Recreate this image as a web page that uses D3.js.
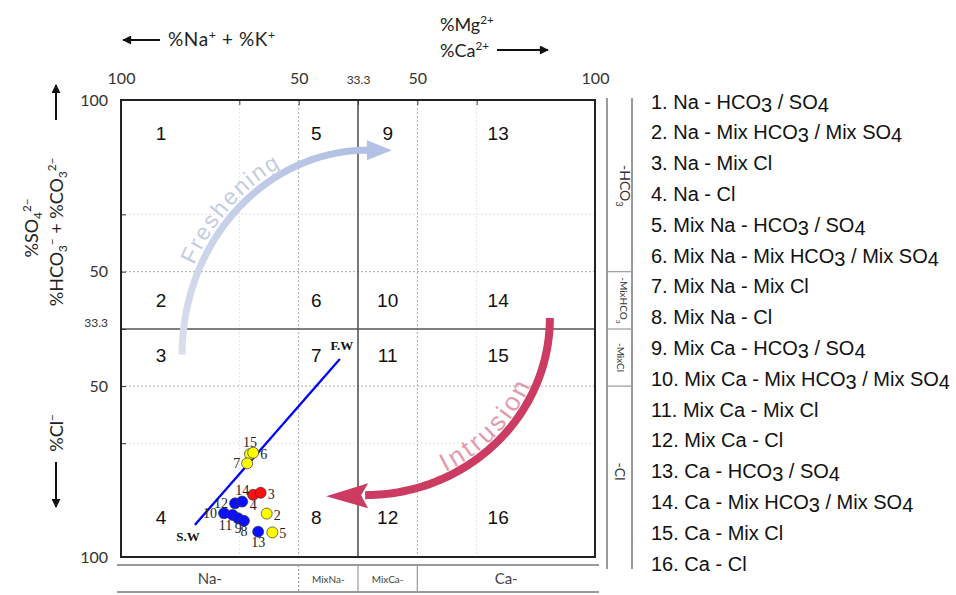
<!DOCTYPE html>
<html>
<head>
<meta charset="utf-8">
<script src="https://cdn.jsdelivr.net/npm/d3@7"></script>
<style>
  body { margin: 0; background: #fff; }
  svg { display: block; }
</style>
</head>
<body>
<svg width="956" height="595"></svg>
<script>
// legend of the 16 facies
const faciesNames = [
  "1. Na - HCO3 / SO4",
  "2. Na - Mix HCO3 / Mix SO4",
  "3. Na - Mix Cl",
  "4. Na - Cl",
  "5. Mix Na - HCO3 / SO4",
  "6. Mix Na - Mix HCO3 / Mix SO4",
  "7. Mix Na - Mix Cl",
  "8. Mix Na -  Cl",
  "9. Mix Ca - HCO3 / SO4",
  "10. Mix Ca - Mix HCO3 / Mix SO4",
  "11. Mix Ca - Mix Cl",
  "12. Mix Ca -  Cl",
  "13. Ca - HCO3 / SO4",
  "14. Ca - Mix HCO3 / Mix SO4",
  "15. Ca - Mix Cl",
  "16. Ca - Cl"
];
const cationBands = ["Na-", "MixNa-", "MixCa-", "Ca-"];
const anionBands = ["-HCO3", "-MixHCO3", "-MixCl", "-Cl"];

// tick values of each half axis
const naTicks = [100, 66.7, 50, 33.3];
const caTicks = [50, 66.7, 100];

// samples: %Na+K and %Cl (all fall in the Na side / Cl side)
const sampleIds = ["15", "6", "7", "2", "5", "4", "3", "12", "14", "10", "11", "9", "8", "13"];
const sampleNa = [63.7, 62.8, 64.5, 59.0, 57.4, 62.8, 60.7, 67.9, 65.9, 71.0, 68.6, 67.0, 65.4, 61.4];
const sampleCl = [69.9, 69.5, 72.6, 87.3, 92.8, 81.8, 81.2, 84.3, 83.8, 87.2, 87.7, 88.7, 89.4, 92.6];
const sampleGroup = ["Y", "Y", "Y", "Y", "Y", "R", "R", "B", "B", "B", "B", "B", "B", "B"];
const labelSide = ["t", "r", "l", "r", "r", "b", "r", "l", "t", "l", "bl", "b", "b", "b"];

// seawater - freshwater mixing line
const mixNames = ["S.W", "F.W"];
const mixNa = [79.2, 38.4];
const mixCl = [90.6, 42.1];

let svg = d3.select("svg");
let sans = "'Liberation Sans', Arial, sans-serif";
let lato = "Lato, 'Open Sans', sans-serif";
let serif = "'Liberation Serif', 'Times New Roman', serif";

let X0 = 121, XM = 358, X1 = 595, Y0 = 100, YM = 329, Y1 = 557;
let xNa = d3.scaleLinear().domain([100, 33.3]).range([X0, XM]);
let xCa = d3.scaleLinear().domain([33.3, 100]).range([XM, X1]);
let yAn = d3.scaleLinear().domain([100, 33.3]).range([Y0, YM]);
let yCl = d3.scaleLinear().domain([33.3, 100]).range([YM, Y1]);
let colour = d3.scaleOrdinal().domain(["Y", "R", "B"]).range(["#ffff00", "#ff1010", "#0a10ff"]);

let xEdges = [X0, xNa(50), XM, xCa(50), X1];
let yEdges = [Y0, yAn(50), YM, yCl(50), Y1];

// text with sub/superscripts
let rich = (sel, parts) => {
  let cur = 0;
  parts.forEach(([s, k]) => {
    let off = k === 1 ? -7 : k === -1 ? 4 : 0;
    sel.append("tspan").attr("dy", off - cur).attr("font-size", k ? "0.65em" : null).text(s);
    cur = off;
  });
};
// chemistry strings like HCO3 -> lowered digit
let chem = (sel, str, shift) => {
  let cur = 0;
  str.split(/(HCO3|SO4)/).forEach(p => {
    if (!p) return;
    if (/^(HCO3|SO4)$/.test(p)) {
      sel.append("tspan").attr("dy", -cur).text(p.slice(0, -1));
      sel.append("tspan").attr("dy", shift).text(p.slice(-1));
      cur = shift;
    } else {
      sel.append("tspan").attr("dy", -cur).text(p);
      cur = 0;
    }
  });
};

let defs = svg.append("defs");
defs.append("marker").attr("id", "ah")
  .attr("viewBox", "0 0 10 10").attr("refX", 9).attr("refY", 5)
  .attr("markerWidth", 11).attr("markerHeight", 9)
  .attr("markerUnits", "userSpaceOnUse").attr("orient", "auto")
  .append("path").attr("d", "M0,0L10,5L0,10z").attr("fill", "#111");

//grid
let grid = svg.append("g");
[xNa(66.7), xCa(66.7)].forEach(x =>
  grid.append("line").attr("x1", x).attr("x2", x).attr("y1", Y0).attr("y2", Y1)
    .attr("stroke", "#e2e2e2").attr("stroke-dasharray", "2,2"));
[yAn(66.7), yCl(66.7)].forEach(y =>
  grid.append("line").attr("y1", y).attr("y2", y).attr("x1", X0).attr("x2", X1)
    .attr("stroke", "#e2e2e2").attr("stroke-dasharray", "2,2"));
[xNa(50), xCa(50)].forEach(x =>
  grid.append("line").attr("x1", x).attr("x2", x).attr("y1", Y0).attr("y2", Y1)
    .attr("stroke", "#a9a9a9").attr("stroke-dasharray", "2,2"));
[yAn(50), yCl(50)].forEach(y =>
  grid.append("line").attr("y1", y).attr("y2", y).attr("x1", X0).attr("x2", X1)
    .attr("stroke", "#a9a9a9").attr("stroke-dasharray", "2,2"));
grid.append("line").attr("x1", XM).attr("x2", XM).attr("y1", Y0).attr("y2", Y1)
  .attr("stroke", "#555").attr("stroke-width", 1.6);
grid.append("line").attr("y1", YM).attr("y2", YM).attr("x1", X0).attr("x2", X1)
  .attr("stroke", "#555").attr("stroke-width", 1.6);

//axes
let styleAxis = g => {
  g.select(".domain").remove();
  g.selectAll("line").attr("stroke", "#333");
  g.selectAll("text").attr("font-family", lato).attr("font-size", 16).attr("fill", "#333");
  g.selectAll("text").filter(d => d === 33.3).attr("font-size", 12);
};
let fmt = d => (d === 66.7 ? "" : d);
svg.append("g").attr("transform", `translate(0,${Y0})`)
  .call(d3.axisTop(xNa).tickValues(naTicks).tickFormat(fmt).tickSize(-5).tickPadding(16)).call(styleAxis);
svg.append("g").attr("transform", `translate(0,${Y0})`)
  .call(d3.axisTop(xCa).tickValues(caTicks).tickFormat(fmt).tickSize(-5).tickPadding(16)).call(styleAxis);
svg.append("g").attr("transform", `translate(${X0},0)`)
  .call(d3.axisLeft(yAn).tickValues(naTicks).tickFormat(fmt).tickSize(-5).tickPadding(13)).call(styleAxis)
  .selectAll(".tick text").filter(d => d === 33.3).attr("dy", "-0.2em");
svg.append("g").attr("transform", `translate(${X0},0)`)
  .call(d3.axisLeft(yCl).tickValues(caTicks).tickFormat(fmt).tickSize(-5).tickPadding(13)).call(styleAxis);

svg.append("rect").attr("x", X0).attr("y", Y0).attr("width", X1 - X0).attr("height", Y1 - Y0)
  .attr("fill", "none").attr("stroke", "#222").attr("stroke-width", 2);

//axis titles
let titleFont = sel => sel.attr("font-family", lato).attr("font-size", 18).attr("fill", "#222");
svg.append("line").attr("x1", 160).attr("x2", 123).attr("y1", 40).attr("y2", 40)
  .attr("stroke", "#111").attr("stroke-width", 2).attr("marker-end", "url(#ah)");
rich(svg.append("text").attr("x", 168).attr("y", 46).call(titleFont).attr("font-size", 19).attr("letter-spacing", 0.6),
  [["%Na", 0], ["+", 1], [" + %K", 0], ["+", 1]]);
rich(svg.append("text").attr("x", 440).attr("y", 31).call(titleFont),
  [["%Mg", 0], ["2+", 1]]);
rich(svg.append("text").attr("x", 440).attr("y", 57).call(titleFont),
  [["%Ca", 0], ["2+", 1]]);
svg.append("line").attr("x1", 497).attr("x2", 548).attr("y1", 50).attr("y2", 50)
  .attr("stroke", "#111").attr("stroke-width", 2).attr("marker-end", "url(#ah)");

svg.append("line").attr("x1", 56).attr("x2", 56).attr("y1", 120).attr("y2", 85)
  .attr("stroke", "#111").attr("stroke-width", 2).attr("marker-end", "url(#ah)");
rich(svg.append("text").attr("transform", "translate(38,228) rotate(-90)").attr("text-anchor", "middle").call(titleFont),
  [["%SO", 0], ["4", -1], ["2\u2212", 1]]);
rich(svg.append("text").attr("transform", "translate(63,232) rotate(-90)").attr("text-anchor", "middle").call(titleFont),
  [["%HCO", 0], ["3", -1], ["\u2212", 1], [" + %CO", 0], ["3", -1], ["2\u2212", 1]]);
rich(svg.append("text").attr("transform", "translate(63,433) rotate(-90)").attr("text-anchor", "middle").call(titleFont),
  [["%Cl", 0], ["\u2212", 1]]);
svg.append("line").attr("x1", 56).attr("x2", 56).attr("y1", 462).attr("y2", 507)
  .attr("stroke", "#111").attr("stroke-width", 2).attr("marker-end", "url(#ah)");

//side bands
let bands = svg.append("g").attr("stroke", "#9a9a9a").attr("stroke-width", 2);
[607, 632].forEach(x => bands.append("line").attr("x1", x).attr("x2", x).attr("y1", 98).attr("y2", 569));
yEdges.slice(1, 4).forEach(y => bands.append("line").attr("x1", 607).attr("x2", 632).attr("y1", y).attr("y2", y).attr("stroke-width", 1.2));
[565, 592].forEach(y => bands.append("line").attr("x1", 117).attr("x2", 599).attr("y1", y).attr("y2", y));
xEdges.slice(1, 4).forEach((x, i) => bands.append("line").attr("x1", x).attr("x2", x).attr("y1", 565).attr("y2", 592)
  .attr("stroke-width", 1.2).attr("stroke-dasharray", i === 0 ? "2,2" : null));

anionBands.forEach((s, i) => {
  let t = svg.append("text")
    .attr("transform", `translate(620,${(yEdges[i] + yEdges[i + 1]) / 2}) rotate(90)`)
    .attr("text-anchor", "middle").attr("dy", "0.35em")
    .attr("font-family", lato).attr("font-size", s.includes("Mix") ? 10 : 14).attr("fill", "#333");
  let m = s.match(/^(.*?)(\d)$/);
  if (m) rich(t, [[m[1], 0], [m[2], -1]]);
  else t.text(s);
});
cationBands.forEach((s, i) => {
  svg.append("text").attr("x", (xEdges[i] + xEdges[i + 1]) / 2).attr("y", 579).attr("dy", "0.35em")
    .attr("text-anchor", "middle").attr("font-family", lato)
    .attr("font-size", s.includes("Mix") ? 10 : 15).attr("fill", "#444").text(s);
});

//arrows
let arcPts = (c, rx, ry, a0, a1) => d3.range(0, 1.0001, 1 / 80).map(t => {
  let a = a0 + (a1 - a0) * t;
  return [c[0] + rx * Math.cos(a), c[1] + ry * Math.sin(a)];
});
let line = d3.line();

// freshening: from the Na-MixCl field up to the MixCa-HCO3 field
let fc = [xCa(36.1), yCl(40.8)], frx = fc[0] - xNa(82.8), fry = fc[1] - yAn(85.4);
let fg = defs.append("linearGradient").attr("id", "freshGrad").attr("gradientUnits", "userSpaceOnUse")
  .attr("x1", fc[0] - frx).attr("y1", fc[1]).attr("x2", fc[0] + 20).attr("y2", fc[1] - fry);
fg.append("stop").attr("offset", 0).attr("stop-color", "#d8deec");
fg.append("stop").attr("offset", 1).attr("stop-color", "#aebde3");
defs.append("path").attr("id", "freshPath").attr("d", line(arcPts(fc, frx + 6, fry + 6, Math.PI, 1.5 * Math.PI)));
svg.append("path").attr("d", line(arcPts(fc, frx, fry, Math.PI, 1.5 * Math.PI)))
  .attr("fill", "none").attr("stroke", "url(#freshGrad)").attr("stroke-width", 7);
svg.append("path").attr("d", d3.line()([[fc[0] - 1, fc[1] - fry - 10], [fc[0] + 24, fc[1] - fry], [fc[0] - 1, fc[1] - fry + 10]]))
  .attr("fill", "#b3c1e4");
svg.append("text").attr("font-family", sans).attr("font-size", 23).attr("letter-spacing", 2)
  .attr("fill", "#c4ccdf")
  .append("textPath").attr("href", "#freshPath").attr("startOffset", "29%").text("Freshening");

// intrusion: from the Ca-MixCl border down to the Na-Cl field
let ic = [xCa(35.3), yAn(36.5)], irx = xCa(87.3) - ic[0], iry = yCl(81.9) - ic[1];
defs.append("path").attr("id", "intrPath").attr("d", line(arcPts(ic, irx - 5, iry - 5, 0.5 * Math.PI, 0)));
svg.append("path").attr("d", line(arcPts(ic, irx, iry, 0, 0.5 * Math.PI)))
  .attr("fill", "none").attr("stroke", "#cc3b62").attr("stroke-width", 8);
svg.append("path").attr("d", d3.line()([[ic[0] + 3, ic[1] + iry - 12], [ic[0] - 39, ic[1] + iry + 1],
  [ic[0] + 3, ic[1] + iry + 13], [ic[0] - 4, ic[1] + iry]]))
  .attr("fill", "#cc3b62");
svg.append("text").attr("font-family", sans).attr("font-size", 26).attr("letter-spacing", 3)
  .attr("fill", "#e49aad")
  .append("textPath").attr("href", "#intrPath").attr("startOffset", "30%").text("Intrusion");

//facies numbers
let colX = [X0 + 40, (xEdges[1] + XM) / 2 - 12, (XM + xEdges[3]) / 2, (xEdges[3] + X1) / 2 - 8];
let rowY = [Y0 + 33, (yEdges[1] + YM) / 2, (YM + yEdges[3]) / 2 - 3, Y1 - 40];
svg.append("g").selectAll("text").data(d3.range(16)).enter().append("text")
  .attr("x", i => colX[Math.floor(i / 4)])
  .attr("y", i => rowY[i % 4] + 7)
  .attr("text-anchor", "middle")
  .attr("font-family", sans).attr("font-size", 19).attr("fill", "#111")
  .text(i => i + 1);

//mixing line
svg.append("line")
  .attr("x1", xNa(mixNa[0])).attr("y1", yCl(mixCl[0]))
  .attr("x2", xNa(mixNa[1])).attr("y2", yCl(mixCl[1]))
  .attr("stroke", "#0000ff").attr("stroke-width", 2.3);
svg.append("text").attr("x", xNa(mixNa[0]) - 7).attr("y", yCl(mixCl[0]) + 16)
  .attr("text-anchor", "middle").attr("font-family", serif).attr("font-weight", "bold")
  .attr("font-size", 13).attr("fill", "#111").text(mixNames[0]);
svg.append("text").attr("x", xNa(mixNa[1]) + 2).attr("y", yCl(mixCl[1]) - 9)
  .attr("text-anchor", "middle").attr("font-family", serif).attr("font-weight", "bold")
  .attr("font-size", 13).attr("fill", "#111").text(mixNames[1]);

//samples
let pts = svg.append("g");
pts.selectAll("circle").data(sampleIds).enter().append("circle")
  .attr("cx", (d, i) => xNa(sampleNa[i]))
  .attr("cy", (d, i) => yCl(sampleCl[i]))
  .attr("r", 5.5)
  .attr("fill", (d, i) => colour(sampleGroup[i]))
  .attr("stroke", "#333").attr("stroke-width", 0.7);
let off = { t: [0, -7, "middle"], b: [0, 15, "middle"], l: [-7, 5, "end"], r: [7, 6, "start"], bl: [-7, 15, "middle"] };
pts.selectAll("text").data(sampleIds).enter().append("text")
  .attr("x", (d, i) => xNa(sampleNa[i]) + off[labelSide[i]][0])
  .attr("y", (d, i) => yCl(sampleCl[i]) + off[labelSide[i]][1])
  .attr("text-anchor", (d, i) => off[labelSide[i]][2])
  .attr("font-family", serif).attr("font-size", 14).attr("fill", "#222")
  .text(d => d);

//legend
faciesNames.forEach((s, i) => {
  chem(svg.append("text").attr("x", 651).attr("y", 108.5 + i * 30.8)
    .attr("font-family", sans).attr("font-size", 20).attr("fill", "#111"), s, 3);
});
</script>
</body>
</html>
